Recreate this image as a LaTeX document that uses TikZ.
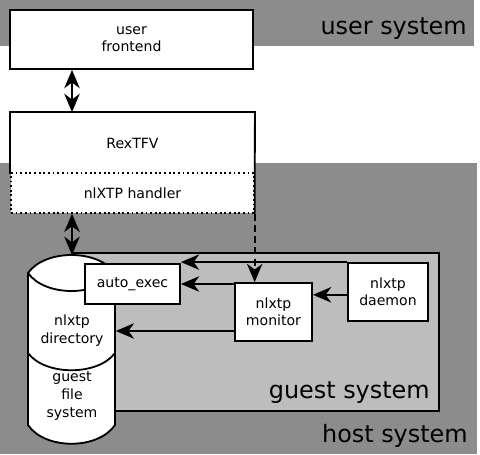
\documentclass[tikz,border=0pt]{standalone}
\usepackage{fontspec}
\setmainfont{DejaVu Sans}
\usetikzlibrary{arrows.meta}
\definecolor{hostgray}{HTML}{8C8C8C}
\definecolor{guestgray}{HTML}{BDBDBD}

\begin{document}
\begin{tikzpicture}[
    x=0.025cm, y=-0.025cm,
    box/.style={draw, line width=1.3pt, fill=white, align=center, inner sep=0pt, font=\fontsize{10}{12}\selectfont},
    label/.style={align=center, inner sep=0pt, font=\fontsize{10}{12.8}\selectfont},
    region/.style={anchor=base east, inner sep=0pt, font=\fontsize{17}{20}\selectfont},
    link/.style={line width=1.2pt, -{Stealth[length=13pt, width=11pt, inset=4pt]}},
    both/.style={line width=1.5pt, {Stealth[length=13pt, width=11pt, inset=4pt]}-{Stealth[length=13pt, width=11pt, inset=4pt]}},
]
    \useasboundingbox (0,0) rectangle (480,454);
    % system areas
    \fill[hostgray] (0,0) rectangle (474,46);
    \fill[hostgray] (0,163) rectangle (477,454);
    \filldraw[fill=guestgray, line width=1.3pt] (72,253) rectangle (439,411);
    \node[region] (usr) at (467,34) {user system};
    \node[region] (gst) at (430,398) {guest system};
    \node[region] (hst) at (468,442) {host system};

    % user side
    \node[box, minimum width=6.075cm, minimum height=1.475cm] (front) at (131.5,39.5) {user\\frontend};
    \node[box, draw=none, minimum width=6.075cm, minimum height=1.5cm] (rex) at (132.5,143) {RexTFV};
    \node[box, dotted, line width=0.9pt, minimum width=6.075cm, minimum height=1cm] (handler) at (132.5,193) {nlXTP handler};
    \draw[line width=1.3pt] (rex.south west) |- (rex.north east) -- (handler.south east);

    % shared directory
    \filldraw[fill=white, line width=1.3pt] (28,273) -- (28,425) .. controls (45,450) and (98,450) .. (115,425)
        -- (115,273) .. controls (98,249) and (45,249) .. cycle;
    \draw[line width=1.3pt] (28,273) .. controls (45,297) and (98,297) .. (115,273);
    \draw[line width=1.3pt] (28,353) .. controls (45,376) and (98,376) .. (115,353);
    \node[label, minimum width=2.175cm] (dir) at (72,331) {nlxtp\\directory};
    \node[label] (gfs) at (72,396) {guest\\file\\system};
    \coordinate (cyltop) at (72,255);

    % guest side
    \node[box, minimum width=2.375cm, minimum height=1cm] (auto) at (132.5,284) {auto\_exec};
    \node[box, minimum width=1.925cm, minimum height=1.45cm] (monitor) at (273.5,312) {nlxtp\\monitor};
    \node[box, minimum width=2cm, minimum height=1.45cm] (daemon) at (388,292) {nlxtp\\daemon};

    \draw[both] (front.south -| dir) -- (rex.north -| dir);
    \draw[both] (handler.south -| dir) -- (cyltop);
    \draw[link, dash pattern=on 5pt off 3pt] (handler.south east) -- (handler.south east |- monitor.north);
    \draw[link] (daemon.north west) -- (daemon.north west -| auto.east);
    \draw[link] (monitor.west |- auto.east) -- (auto.east);
    \draw[link] ([yshift=-2pt]daemon.west) -- ([yshift=-2pt]daemon.west -| monitor.east);
    \draw[link] (monitor.west |- dir.east) -- (dir.east);
\end{tikzpicture}
\end{document}
